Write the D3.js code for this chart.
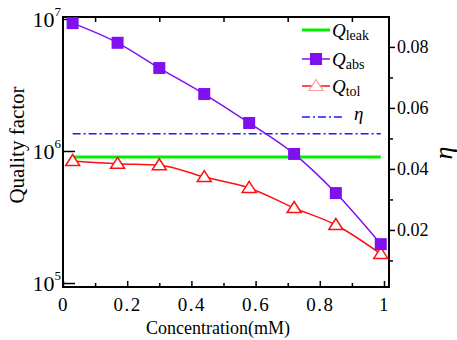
<!DOCTYPE html>
<html>
<head>
<meta charset="utf-8">
<script src="https://cdn.jsdelivr.net/npm/d3@7"></script>
<style>
  body { margin: 0; background: #fff; }
  svg text { font-family: "Liberation Serif", "Times New Roman", serif !important; fill: #000; }
</style>
</head>
<body>
<div id="chart"></div>
<script>
// values
var concentration = [0.03, 0.17, 0.30, 0.44, 0.58, 0.72, 0.85, 0.99];
var qAbs  = [9.3e6, 6.6e6, 4.25e6, 2.7e6, 1.63e6, 9.5e5, 4.8e5, 1.97e5];
var qTol  = [8.4e5, 8.0e5, 7.8e5, 6.35e5, 5.25e5, 3.7e5, 2.75e5, 1.66e5];
var qLeak = [9.0e5, 9.0e5, 9.0e5, 9.0e5, 9.0e5, 9.0e5, 9.0e5, 9.0e5];
var eta   = [0.0515, 0.0515, 0.0515, 0.0515, 0.0515, 0.0515, 0.0515, 0.0515];

var xTicks = [0, 0.2, 0.4, 0.6, 0.8, 1];
var xMinor = [0.1, 0.3, 0.5, 0.7, 0.9];
var qTicks = [1e5, 1e6, 1e7];
var etaTicks = [0.02, 0.04, 0.06, 0.08];
var etaMinor = [0.01, 0.03, 0.05, 0.07];

var width = 457, height = 340;
var serif = '"Liberation Serif", "Times New Roman", serif';
// plot box (window.top is reserved, hence the names)
var boxL = 63, boxR = 389, boxT = 17, boxB = 287;

var svg = d3.select("#chart").append("svg")
    .attr("width", width)
    .attr("height", height)
    .attr("font-family", serif);

var x = d3.scaleLinear().domain([0, 1.0156]).range([boxL, boxR]);
var y = d3.scaleLog().domain([9.33e4, 1.035e7]).range([boxB, boxT]);
var y2 = d3.scaleLinear().domain([0.0013, 0.0898]).range([boxB, boxT]);

// axes: ticks only, frame drawn afterwards
function clean(g) {
  g.attr("font-family", serif);
  g.select(".domain").remove();
  g.selectAll("line").attr("stroke", "#000").attr("stroke-width", 1.5);
}

svg.append("g")
    .attr("transform", "translate(0," + boxB + ")")
    .call(d3.axisBottom(x).tickValues(xTicks).tickSize(-6).tickPadding(11)
        .tickFormat(function(d) { return d === 0 || d === 1 ? d : d3.format(".1f")(d); }))
    .call(clean)
    .selectAll("text").attr("font-size", "19px").attr("letter-spacing", "1.5px");

svg.append("g")
    .attr("transform", "translate(0," + boxB + ")")
    .call(d3.axisBottom(x).tickValues(xMinor).tickSize(-4).tickFormat(""))
    .call(clean);

svg.append("g")
    .attr("transform", "translate(0," + boxT + ")")
    .call(d3.axisTop(x).tickValues(xMinor).tickSize(-5).tickFormat(""))
    .call(clean);

svg.append("g")
    .attr("transform", "translate(" + boxL + ",0)")
    .call(d3.axisLeft(y).tickValues(qTicks).tickSize(-12).tickFormat(""))
    .call(clean);

// log labels with superscript
var qLab = svg.append("g").selectAll("text")
    .data(qTicks)
    .enter().append("text")
    .attr("x", boxL - 2)
    .attr("y", function(d) { return y(d) + 8; })
    .attr("text-anchor", "end")
    .attr("font-size", "22px");
qLab.append("tspan").text("10");
qLab.append("tspan")
    .attr("font-size", "13px")
    .attr("dy", "-11")
    .text(function(d) { return Math.round(Math.log10(d)); });

svg.append("g")
    .attr("transform", "translate(" + boxR + ",0)")
    .call(d3.axisRight(y2).tickValues(etaTicks).tickSize(6).tickPadding(2).tickFormat(d3.format(".2f")))
    .call(clean)
    .selectAll("text").attr("font-size", "18px");

svg.append("g")
    .attr("transform", "translate(" + boxR + ",0)")
    .call(d3.axisRight(y2).tickValues(etaMinor).tickSize(4).tickFormat(""))
    .call(clean);

// frame
svg.append("rect")
    .attr("x", boxL).attr("y", boxT)
    .attr("width", boxR - boxL).attr("height", boxB - boxT)
    .attr("fill", "none").attr("stroke", "#000").attr("stroke-width", 2);

// axis titles
svg.append("text")
    .attr("transform", "translate(24,145) rotate(-90)")
    .attr("text-anchor", "middle")
    .attr("font-size", "21px")
    .text("Quality factor");

svg.append("text")
    .attr("x", 218).attr("y", 334)
    .attr("text-anchor", "middle")
    .attr("font-size", "18px")
    .text("Concentration(mM)");

svg.append("text")
    .attr("transform", "translate(452,153) rotate(-90)")
    .attr("text-anchor", "middle")
    .attr("font-size", "26px")
    .attr("font-style", "italic")
    .text("η");

// series
var purple = "#8010f0", red = "#ff1010", green = "#00f000", blue = "#1a1aff";

function lineFor(vals, scale) {
  return d3.line()
    .x(function(d, i) { return x(concentration[i]); })
    .y(function(d) { return scale(d); })
    .curve(d3.curveMonotoneX)(vals);
}

svg.append("path")
    .attr("d", lineFor(eta, y2))
    .attr("fill", "none").attr("stroke", blue).attr("stroke-width", 1.5)
    .attr("stroke-dasharray", "8,3,2,3");

svg.append("path")
    .attr("d", lineFor(qLeak, y))
    .attr("fill", "none").attr("stroke", green).attr("stroke-width", 3);

svg.append("path")
    .attr("d", lineFor(qTol, y))
    .attr("fill", "none").attr("stroke", red).attr("stroke-width", 1.5);

svg.append("path")
    .attr("d", lineFor(qAbs, y))
    .attr("fill", "none").attr("stroke", purple).attr("stroke-width", 1.5);

// wide open triangle, as in the reference
var tri = "M0,-6.5L7,4.5L-7,4.5Z";

svg.append("g").selectAll("path")
    .data(qTol)
    .enter().append("path")
    .attr("d", tri)
    .attr("transform", function(d, i) { return "translate(" + x(concentration[i]) + "," + y(d) + ")"; })
    .attr("fill", "#fff").attr("stroke", red).attr("stroke-width", 1.5);

svg.append("g").selectAll("rect")
    .data(qAbs)
    .enter().append("rect")
    .attr("x", function(d, i) { return x(concentration[i]) - 6; })
    .attr("y", function(d) { return y(d) - 6; })
    .attr("width", 12).attr("height", 12)
    .attr("fill", purple);

// legend
var legend = [
  { name: "leak", col: green, w: 3, sym: null, y: 30 },
  { name: "abs",  col: purple, w: 1.5, sym: "square", y: 59 },
  { name: "tol",  col: red, w: 1.5, sym: "triangle", y: 86 }
];

var lg = svg.append("g").selectAll("g")
    .data(legend)
    .enter().append("g");

lg.append("line")
    .attr("x1", 302).attr("x2", 330)
    .attr("y1", function(d) { return d.y; }).attr("y2", function(d) { return d.y; })
    .attr("stroke", function(d) { return d.col; })
    .attr("stroke-width", function(d) { return d.w; });

lg.filter(function(d) { return d.sym === "square"; })
  .append("rect")
    .attr("x", 310).attr("y", function(d) { return d.y - 6; })
    .attr("width", 12).attr("height", 12)
    .attr("fill", purple);

lg.filter(function(d) { return d.sym === "triangle"; })
  .append("path")
    .attr("d", tri)
    .attr("transform", function(d) { return "translate(316," + d.y + ")"; })
    .attr("fill", "#fff").attr("stroke", "#f4a0a0").attr("stroke-width", 1.2);

var lt = lg.append("text")
    .attr("x", 332)
    .attr("y", function(d) { return d.y + 7; })
    .attr("font-size", "19px");
lt.append("tspan").attr("font-style", "italic").text("Q");
lt.append("tspan").attr("font-size", "14px").attr("dy", "3").text(function(d) { return d.name; });

svg.append("line")
    .attr("x1", 302).attr("x2", 345)
    .attr("y1", 117).attr("y2", 117)
    .attr("stroke", blue).attr("stroke-width", 1.5)
    .attr("stroke-dasharray", "8,3,2,3");

svg.append("text")
    .attr("x", 354).attr("y", 120)
    .attr("font-size", "19px")
    .attr("font-style", "italic")
    .text("η");
</script>
</body>
</html>
